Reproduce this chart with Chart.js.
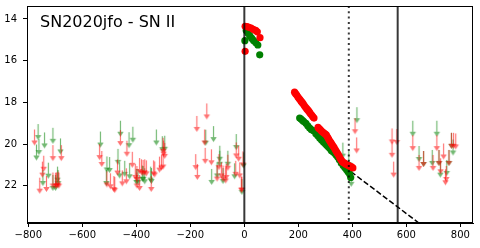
<!DOCTYPE html>
<html>
<head>
<meta charset="utf-8">
<script src="https://cdn.jsdelivr.net/npm/chart.js@4.4.0/dist/chart.umd.min.js"></script>
<style>
html,body{margin:0;padding:0;background:#fff;}
canvas{display:block;}
</style>
</head>
<body>
<canvas id="c" width="480" height="248"></canvas>
<script>
// ---------- DATA ----------
const titleText = "SN2020jfo - SN II";
const xTicks = [-800, -600, -400, -200, 0, 200, 400, 600, 800];
const yTicks = [14, 16, 18, 20, 22];

// r-band detections (red)
const detRedX = [3, 10, 17, 25, 33, 42, 48, 58, 3,
  186, 190, 194, 198, 202, 206, 210, 214, 218, 222, 226, 230, 234, 238, 242, 246, 250, 254, 258,
  273, 277, 281, 285, 290, 295, 300, 304, 308, 312, 316, 320, 324, 328, 332, 336, 340, 344, 348, 352, 356, 360, 364, 370, 375, 380, 385, 390, 396, 402];
const detRedY = [14.35, 14.37, 14.40, 14.44, 14.50, 14.55, 14.62, 14.90, 15.55,
  17.51, 17.58, 17.65, 17.73, 17.80, 17.86, 17.94, 18.00, 18.07, 18.15, 18.22, 18.29, 18.35, 18.41, 18.48, 18.56, 18.62, 18.69, 18.75,
  19.20, 19.26, 19.30, 19.36, 19.42, 19.47, 19.52, 19.57, 19.66, 19.75, 19.84, 19.92, 20.00, 20.08, 20.15, 20.25, 20.34, 20.42, 20.50, 20.60, 20.70, 20.78, 20.86, 20.90, 20.95, 20.98, 21.02, 21.05, 21.08, 21.14];

// g-band detections (green)
const detGreenX = [2, 7, 14, 20, 27, 34, 42, 50, 57,
  205, 210, 215, 220, 228, 235, 242, 248, 255, 265, 272, 279, 286, 293, 300, 305, 310, 316, 322, 328, 334, 340, 346, 352, 359, 366, 372, 378, 384, 390, 394];
const detGreenY = [15.04, 14.55, 14.68, 14.80, 14.92, 15.03, 15.13, 15.25, 15.72,
  18.75, 18.80, 18.86, 18.92, 19.00, 19.12, 19.23, 19.30, 19.35, 19.50, 19.60, 19.71, 19.80, 19.90, 19.98, 20.05, 20.11, 20.20, 20.30, 20.37, 20.43, 20.52, 20.62, 20.75, 20.90, 21.02, 21.12, 21.22, 21.32, 21.43, 21.60];

// r-band upper limits (red arrows)
const ulRedX = [-777, -709, -678, -743, -748, -758, -733, -699, -690, -687, -709, -696,
  -536, -528, -459, -435, -470, -415, -509, -496, -483, -480, -452, -437, -404, -398, -398, -388, -388, -381, -375, -369, -363, -345, -336, -332, -314, -307, -301, -301, -299, -295,
  -139, -176, -147, -145, -122, -180, -174, -94, -101, -85, -79, -67, -69, -61, -30, -21, -32, -17, -5, -11, -9,
  410, 416,
  547, 547, 565, 553, 624, 647, 664, 699, 713, 721, 727, 738, 748, 745, 758, 767, 775, 783];
const ulRedY = [19.92, 20.67, 20.67, 21.18, 21.46, 22.23, 22.15, 21.99, 21.94, 21.99, 21.98, 21.98,
  20.62, 20.95, 19.95, 20.46, 21.36, 20.99, 21.93, 22.02, 22.15, 22.20, 21.88, 21.78, 21.57, 21.67, 21.98, 22.10, 21.29, 21.35, 21.38, 21.35, 21.40, 22.15, 21.40, 21.45, 21.22, 21.12, 21.07, 20.32, 20.45, 20.56,
  18.67, 19.27, 19.92, 20.80, 20.87, 21.10, 21.57, 21.10, 21.65, 21.50, 21.65, 21.57, 21.74, 21.13, 20.54, 20.70, 21.42, 21.50, 20.97, 22.18, 22.18,
  19.38, 20.30,
  19.87, 20.51, 19.90, 21.46, 20.19, 21.14, 20.95, 21.14, 20.19, 20.90, 21.30, 20.59, 21.67, 21.83, 20.90, 20.08, 20.08, 20.11];

// g-band upper limits (green arrows)
const ulGreenX = [-764, -770, -761, -740, -709, -681, -726, -746, -709, -692, -690, -699,
  -533, -459, -427, -413, -468, -509, -499, -511, -462, -443, -425, -400, -394, -375, -369, -378, -347, -344, -326, -304, -295,
  -143, -114, -121, -91, -91, -101, -79, -61, -36, -30, -3, -9,
  417, 365, 387, 396,
  624, 647, 664, 696, 713, 721, 726, 750, 758, 767, 773];
const ulGreenY = [19.66, 20.64, 20.38, 20.06, 19.84, 20.35, 21.51, 21.86, 22.10, 21.70, 21.86, 22.10,
  20.02, 19.50, 20.05, 19.79, 20.85, 21.21, 21.24, 21.86, 21.50, 21.42, 21.54, 21.81, 21.81, 21.67, 21.78, 21.65, 21.70, 21.77, 19.92, 20.24, 20.22,
  19.93, 19.76, 21.81, 20.70, 20.94, 21.50, 21.77, 20.94, 21.54, 20.14, 21.02, 22.29,
  18.85, 20.55, 20.95, 21.90,
  19.50, 20.71, 20.95, 20.90, 19.50, 20.90, 21.46, 21.38, 20.90, 20.08, 20.40];

// reference lines
const solidLinesX = [0, 568];
const dottedLinesX = [387];
const dashedLineX = [395, 720];
const dashedLineY = [21.32, 24.50];

// ---------- HELPERS ----------
function pts(xs, ys){ return xs.map((x,i)=>({x:x, y:ys[i]})); }
function makeArrow(color){
  const base = document.createElement('canvas');
  base.width = 9; base.height = 34;
  const b = base.getContext('2d');
  b.strokeStyle = color; b.fillStyle = color; b.lineWidth = 1.2;
  b.beginPath(); b.moveTo(4.5, 4); b.lineTo(4.5, 16); b.stroke();
  b.beginPath(); b.moveTo(1.3, 15); b.lineTo(7.7, 15); b.lineTo(4.5, 20); b.closePath(); b.fill();
  const out = document.createElement('canvas');
  out.width = 9; out.height = 34;
  const o = out.getContext('2d');
  o.globalAlpha = 0.55;
  o.drawImage(base, 0, 0);
  return out;
}
const arrowRed = makeArrow('#ff0000');
const arrowGreen = makeArrow('#008000');

const decoPlugin = {
  id: 'deco',
  afterDatasetsDraw(chart){
    const ctx = chart.ctx, a = chart.chartArea, xs = chart.scales.x;
    ctx.save();
    ctx.beginPath(); ctx.rect(a.left, a.top, a.right - a.left, a.bottom - a.top); ctx.clip();
    ctx.strokeStyle = 'rgba(0,0,0,0.78)';
    ctx.lineWidth = 2;
    solidLinesX.forEach(v=>{
      const px = xs.getPixelForValue(v);
      ctx.beginPath(); ctx.moveTo(px, a.top); ctx.lineTo(px, a.bottom); ctx.stroke();
    });
    ctx.setLineDash([2, 3.3]);
    dottedLinesX.forEach(v=>{
      const px = xs.getPixelForValue(v);
      ctx.beginPath(); ctx.moveTo(px, a.top); ctx.lineTo(px, a.bottom); ctx.stroke();
    });
    ctx.restore();
  },
  afterDraw(chart){
    const ctx = chart.ctx, a = chart.chartArea;
    ctx.save();
    ctx.strokeStyle = '#000'; ctx.lineWidth = 1;
    ctx.strokeRect(Math.round(a.left)+0.5, Math.round(a.top)+0.5, Math.round(a.right-a.left)-1, Math.round(a.bottom-a.top)-1);
    ctx.fillStyle = '#000';
    ctx.font = '16px "DejaVu Sans"';
    ctx.textBaseline = 'alphabetic';
    ctx.textAlign = 'left';
    ctx.fillText(titleText, 40, 27);
    ctx.restore();
  }
};

const tickFont = {family: '"DejaVu Sans"', size: 10};
const fmt = v => (v < 0 ? '\u2212' + Math.abs(v) : String(v));

new Chart(document.getElementById('c'), {
  type: 'scatter',
  data: {
    datasets: [
      {data: pts(ulGreenX, ulGreenY), pointStyle: arrowGreen, pointRadius: 5, order: 5},
      {data: pts(ulRedX, ulRedY), pointStyle: arrowRed, pointRadius: 5, order: 4},
      {type: 'line', data: pts(dashedLineX, dashedLineY), borderColor: '#000', borderWidth: 1.5, borderDash: [5.5, 2.5], pointRadius: 0, fill: false, order: 3},
      {data: pts(detGreenX, detGreenY), backgroundColor: '#008000', borderWidth: 0, pointRadius: 3.6, order: 2},
      {data: pts(detRedX, detRedY), backgroundColor: '#ff0000', borderWidth: 0, pointRadius: 3.6, order: 1}
    ]
  },
  options: {
    responsive: false,
    animation: false,
    devicePixelRatio: 1,
    layout: {padding: {top: 6, right: 7, left: 0, bottom: 0}},
    plugins: {legend: {display: false}, tooltip: {enabled: false}},
    scales: {
      x: {
        type: 'linear', min: -805, max: 847,
        afterBuildTicks: s => { s.ticks = xTicks.map(v=>({value: v})); },
        afterFit: s => { s.height = 25; s.paddingLeft = 0; s.paddingRight = 0; s.paddingTop = 0; s.paddingBottom = 0; },
        ticks: {font: tickFont, color: '#000', padding: 2, maxRotation: 0, callback: v => fmt(v)},
        grid: {display: true, drawOnChartArea: false, drawTicks: true, tickLength: 4, color: '#000', lineWidth: 1},
        border: {display: true, color: '#000', width: 1}
      },
      y: {
        type: 'linear', reverse: true, min: 13.38, max: 23.78,
        afterBuildTicks: s => { s.ticks = yTicks.map(v=>({value: v})); },
        afterFit: s => { s.width = 27; s.paddingLeft = 0; s.paddingRight = 0; s.paddingTop = 0; s.paddingBottom = 0; },
        ticks: {font: tickFont, color: '#000', padding: 6, callback: v => fmt(v)},
        grid: {display: true, drawOnChartArea: false, drawTicks: true, tickLength: 4, color: '#000', lineWidth: 1},
        border: {display: true, color: '#000', width: 1}
      }
    }
  },
  plugins: [decoPlugin]
});
</script>
</body>
</html>
